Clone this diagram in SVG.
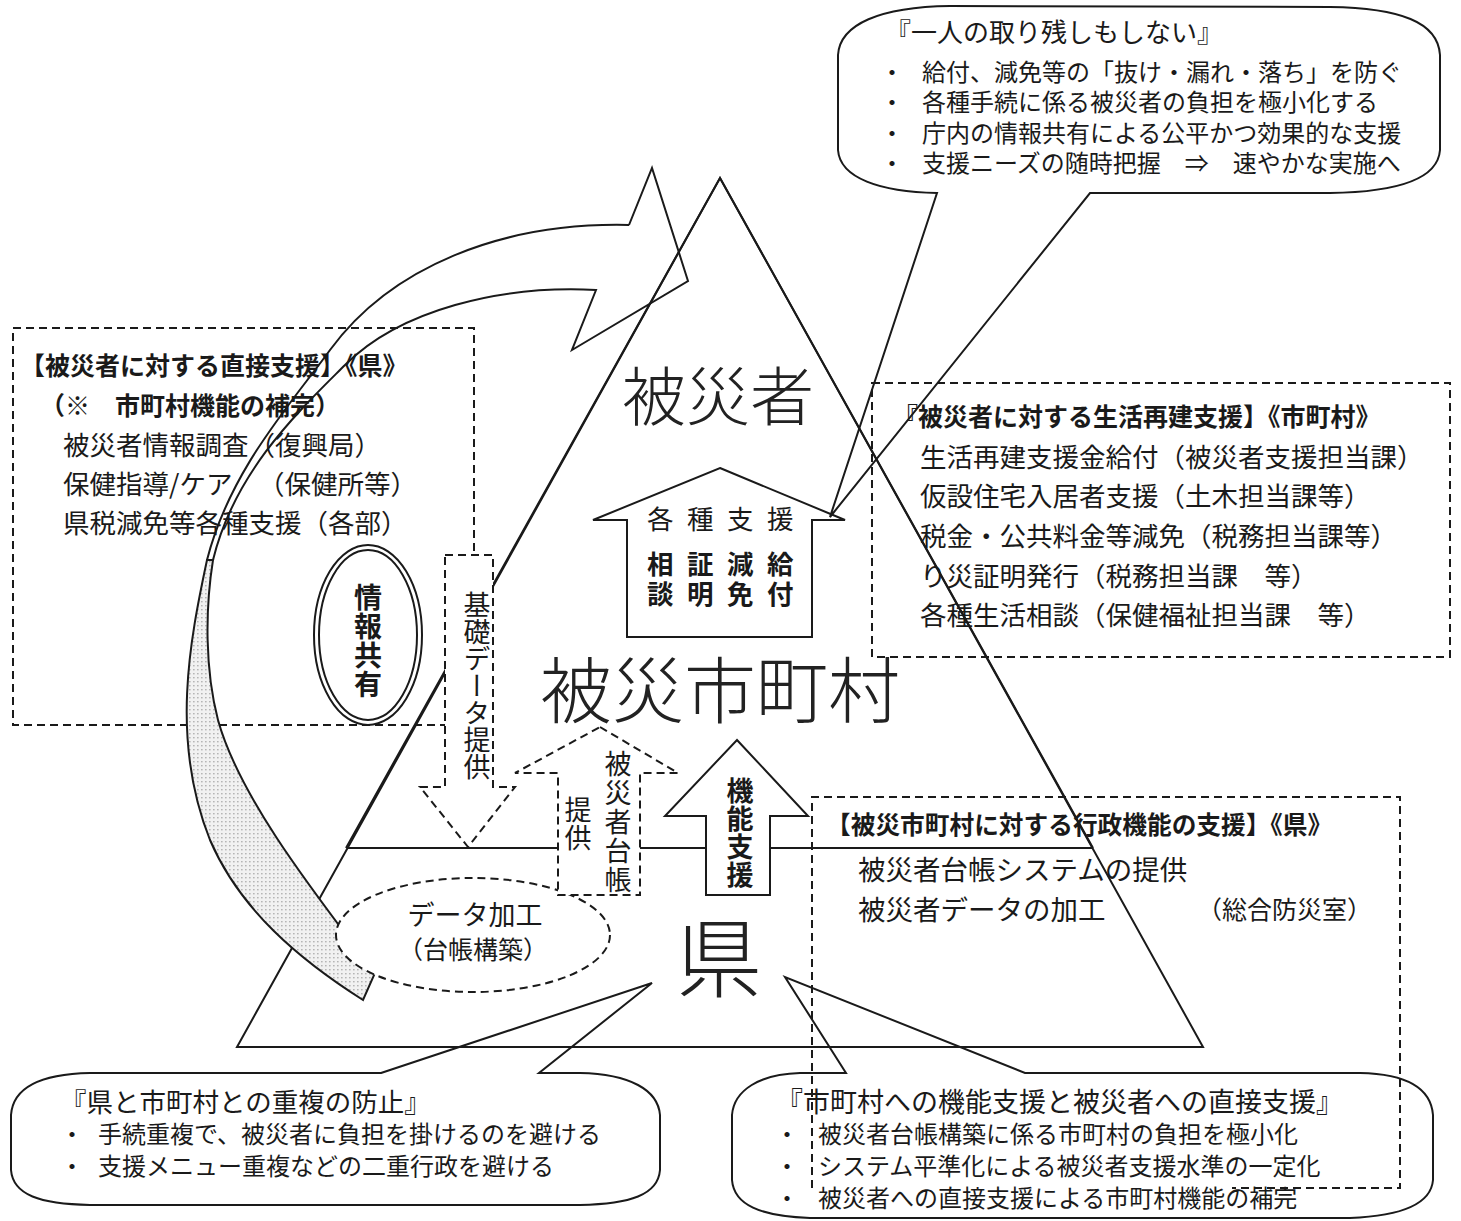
<svg xmlns="http://www.w3.org/2000/svg" width="1461" height="1221" viewBox="0 0 1461 1221">
<style>
.t{font-family:'Noto Sans CJK JP','Noto Sans CJK SC',sans-serif;fill:#1a1a1a;dominant-baseline:central}
.b{font-weight:bold}
.big{font-weight:300;fill:#222}
.ln{fill:none;stroke:#1a1a1a;stroke-width:2;stroke-linejoin:miter}
.wf{fill:#fff;stroke:#1a1a1a;stroke-width:2}
.ds{fill:none;stroke:#1a1a1a;stroke-width:2;stroke-dasharray:8 5}
.dw{fill:#fff;stroke:#1a1a1a;stroke-width:2;stroke-dasharray:8 5}
.v{writing-mode:vertical-rl}
.s24{font-size:24px}.s25{font-size:25px}.s26{font-size:26.5px}.s27{font-size:27px}
</style>
<defs>
<pattern id="dots" width="4" height="4" patternUnits="userSpaceOnUse">
<rect width="4" height="4" fill="#f1f1f1"/>
<rect x="1" y="1" width="1.6" height="1.4" fill="#b5b5b5"/>
</pattern>
</defs>
<rect width="1461" height="1221" fill="#fff"/>

<g id="box-left">
<rect class="ds" x="13" y="328" width="461" height="397"/>
<text class="t b s25" x="20" y="364">【被災者に対する直接支援】《県》</text>
<text class="t b s25" x="40" y="404">（※　市町村機能の補完）</text>
<text class="t s26" x="63" y="443">被災者情報調査（復興局）</text>
<text class="t s26" x="63" y="482">保健指導/ケア <tspan x="258">（保健所等）</tspan></text>
<text class="t s26" x="63" y="521">県税減免等各種支援（各部）</text>
</g>

<g id="box-right">
<rect class="ds" x="872" y="383" width="578" height="274"/>
<text class="t b s25" x="893" y="415">『被災者に対する生活再建支援】《市町村》</text>
<text class="t s26" x="920" y="455">生活再建支援金給付（被災者支援担当課）</text>
<text class="t s26" x="920" y="494">仮設住宅入居者支援（土木担当課等）</text>
<text class="t s26" x="920" y="534">税金・公共料金等減免（税務担当課等）</text>
<text class="t s26" x="920" y="574">り災証明発行（税務担当課　等）</text>
<text class="t s26" x="920" y="613">各種生活相談（保健福祉担当課　等）</text>
</g>

<g id="triangle">
<path class="ln" d="M720,178 L1203,1047 L237,1047 Z"/>
<path class="ln" d="M347,848 L1093,848"/>
</g>

<g id="connectors">
<path d="M207,560 C190,640 170,740 210,840 C240,910 300,960 363,1000 L375,973 C320,900 240,800 218,720 C205,670 205,610 213,560 Z" fill="url(#dots)" stroke="#1a1a1a" stroke-width="2"/>
<path class="ln" d="M629,225 L652,168 L688,281 L572,350 L596,290 C500,285 400,310 345,365 C300,410 235,470 213,560 M207,560 C230,470 290,405 330,350 C390,268 500,222 629,225"/>
<path class="ln" d="M346,848 L720,178 L1093,848"/>
</g>

<g id="ellipse-data">
<ellipse class="dw" cx="473" cy="935" rx="137" ry="57"/>
<text class="t s27" x="475" y="913" text-anchor="middle">データ加工</text>
<text class="t s25" x="473" y="948" text-anchor="middle">（台帳構築）</text>
</g>

<g id="ellipse-info">
<ellipse class="ln" cx="368" cy="635" rx="54" ry="90"/>
<ellipse class="ln" cx="368" cy="635" rx="49" ry="85"/>
<text class="t b v" x="368" y="583" font-size="28" letter-spacing="1">情報共有</text>
</g>

<g id="label-hisaisha">
<text class="t big" x="718" y="392" font-size="64" text-anchor="middle">被災者</text>
</g>
<g id="label-shichoson">
<text class="t big" x="720" y="685" font-size="72" text-anchor="middle">被災市町村</text>
</g>
<g id="label-ken">
<text class="t big" x="719" y="953" font-size="86" text-anchor="middle">県</text>
</g>

<g id="arrow-kakushu">
<path class="wf" d="M720,468 L845,520 L812,520 L812,637 L627,637 L627,520 L593,520 Z"/>
<text class="t s26" x="647" y="517" letter-spacing="13.5">各種支援</text>
<text class="t b s26" x="647" y="562" letter-spacing="13.5">相証減給</text>
<text class="t b s26" x="647" y="592" letter-spacing="13.5">談明免付</text>
</g>

<g id="arrow-kiso">
<path class="dw" d="M445,555 L493,555 L493,787 L515,787 L468,847 L420,787 L445,787 Z"/>
<text class="t s27 v" x="477" y="591">基礎データ提供</text>
</g>

<g id="arrow-daicho">
<path class="dw" d="M600,727 L678,773 L640,773 L640,895 L558,895 L558,773 L515,773 Z"/>
<text class="t s27 v" x="618" y="750" letter-spacing="2">被災者台帳</text>
<text class="t s27 v" x="578" y="796" letter-spacing="1">提供</text>
</g>

<g id="arrow-kino">
<path class="wf" d="M737,740 L808,816 L770,816 L770,895 L706,895 L706,816 L665,816 Z"/>
<text class="t b s27 v" x="740" y="777" letter-spacing="1">機能支援</text>
</g>

<g id="box-bottom-right">
<path class="ds" d="M812,1188 L812,797 L1400,797 L1400,1188 L1232,1188"/>
<text class="t b" x="826" y="823" font-size="24.7">【被災市町村に対する行政機能の支援】《県》</text>
<text class="t" x="858" y="868" font-size="27.5">被災者台帳システムの提供</text>
<text class="t" x="858" y="908" font-size="27.5">被災者データの加工</text>
<text class="t s25" x="1372" y="908" text-anchor="end">（総合防災室）</text>
</g>

<g id="callout-top">
<path class="ln" d="M937,193 L830,517 L1090,193 L1330,193 C1400,192 1438,178 1440,150 L1440,55 C1438,22 1400,8 1330,7 L950,6 C880,7 840,24 838,55 L838,150 C840,178 880,192 937,193 Z"/>
<text class="t" x="885" y="30" font-size="26">『一人の取り残しもしない』</text>
<text class="t s24" x="880" y="70">・</text>
<text class="t s24" x="880" y="100">・</text>
<text class="t s24" x="880" y="131">・</text>
<text class="t s24" x="880" y="161">・</text>
<text class="t s24" x="922" y="70">給付、減免等の「抜け・漏れ・落ち」を防ぐ</text>
<text class="t s24" x="922" y="100">各種手続に係る被災者の負担を極小化する</text>
<text class="t s24" x="922" y="131">庁内の情報共有による公平かつ効果的な支援</text>
<text class="t s24" x="922" y="161">支援ニーズの随時把握　⇒　速やかな実施へ</text>
</g>

<g id="callout-bottom-left">
<path class="ln" d="M381,1073 L652,983 L539,1073 L580,1073 C630,1074 658,1090 660,1115 L660,1170 C658,1195 630,1204 580,1205 L90,1205 C40,1204 13,1195 11,1170 L11,1115 C13,1088 40,1074 90,1073 Z"/>
<text class="t s26" x="60" y="1100">『県と市町村との重複の防止』</text>
<text class="t s24" x="60" y="1132">・</text>
<text class="t s24" x="60" y="1164">・</text>
<text class="t s24" x="98" y="1132">手続重複で、被災者に負担を掛けるのを避ける</text>
<text class="t s24" x="98" y="1164">支援メニュー重複などの二重行政を避ける</text>
</g>

<g id="callout-bottom-right">
<path class="ln" d="M846,1073 L785,977 L1025,1073 L1360,1073 C1410,1074 1431,1090 1433,1115 L1433,1180 C1431,1205 1400,1216 1350,1218 L810,1218 C760,1216 734,1205 732,1180 L732,1115 C734,1090 760,1074 800,1073 Z"/>
<text class="t s27" x="776" y="1100">『市町村への機能支援と被災者への直接支援』</text>
<text class="t s24" x="775" y="1132">・</text>
<text class="t s24" x="775" y="1164">・</text>
<text class="t s24" x="775" y="1196">・</text>
<text class="t s24" x="818" y="1132">被災者台帳構築に係る市町村の負担を極小化</text>
<text class="t s24" x="818" y="1164">システム平準化による被災者支援水準の一定化</text>
<text class="t s24" x="818" y="1196">被災者への直接支援による市町村機能の補完</text>
</g>
</svg>
